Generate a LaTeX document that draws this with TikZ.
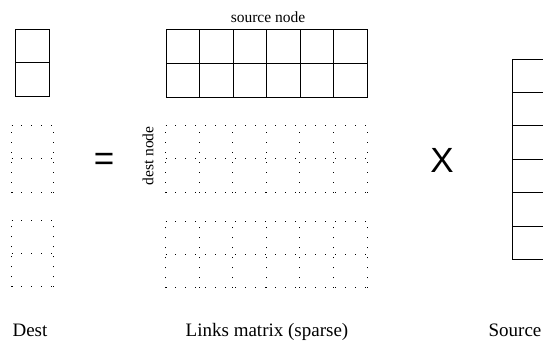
\documentclass[tikz,border=0pt]{standalone}
\usepackage{fontspec}
\setmainfont{Liberation Serif}
\newfontfamily\opfont{Liberation Sans}
\usetikzlibrary{positioning}
\tikzset{
  cell/.style={
    draw, line width=0.9pt, inner sep=0pt, outer sep=0pt
  },
  sparsecell/.style={inner sep=0pt, outer sep=0pt},
  sparseline/.style={
    line width=1pt, dash pattern=on 1pt off 9pt, dash phase=0.5pt
  },
  toplbl/.style={font=\fontsize{15.5}{17}\selectfont, inner sep=0pt},
  botlbl/.style={font=\fontsize{19}{21}\selectfont, inner sep=0pt, anchor=base},
  oplbl/.style={font=\opfont\fontsize{35}{38}\selectfont, inner sep=0pt}
}
% style, name, left, top, cols, rows, cell width, cell height
\newcommand{\cellgrid}[8]{
  \foreach \c in {1,...,#5}{
    \foreach \r in {1,...,#6}{
      \node[#1, minimum width=#7pt, minimum height=#8pt] (#2-\r-\c)
        at ({#3+(\c-0.5)*#7}, {#4+(\r-0.5)*#8}) {};
    }
  }
}
% dotted cells: named nodes, then one dotted grid over them
\newcommand{\sparsegrid}[7]{
  \cellgrid{sparsecell}{#1}{#2}{#3}{#4}{#5}{#6}{#7}
  \draw[sparseline, shift={(#2,#3)}]
    (0,0) grid[xstep=#6pt, ystep=#7pt] ({#4*#6+0.01}, {#5*#7+0.01});
}
\begin{document}
\begin{tikzpicture}[x=1pt, y=-1pt]
\useasboundingbox (0,0) rectangle (543,341);

% Dest vector
\cellgrid{cell}{dest}{15}{29}{1}{2}{34}{33.5}
\sparsegrid{destA}{11.7}{125.7}{1}{2}{41.6}{33.2}
\sparsegrid{destB}{11.7}{220.5}{1}{2}{41.6}{33.2}

% Links matrix
\cellgrid{cell}{links}{166}{29}{6}{2}{33.5}{34}
\sparsegrid{linksA}{165.7}{125.7}{6}{2}{33.55}{33.2}
\sparsegrid{linksB}{165.7}{221.5}{6}{2}{33.55}{33.2}

% Source vector (cut at the right border)
\cellgrid{cell}{src}{512}{59}{1}{6}{34}{33.4}

% Operators
\node[oplbl] (eq) at (104,162) {=};
\node[oplbl] (times) at (442,160) {X};

% Labels
\node[toplbl] (srcnode) at (268,17) {source node};
\node[toplbl, rotate=90] (destnode) at (148,156) {dest node};
\node[botlbl] (destlbl) at (30,336) {Dest};
\node[botlbl] (linkslbl) at (267,336) {Links matrix (sparse)};
\node[botlbl] (srclbl) at (515,336) {Source};

\end{tikzpicture}
\end{document}
